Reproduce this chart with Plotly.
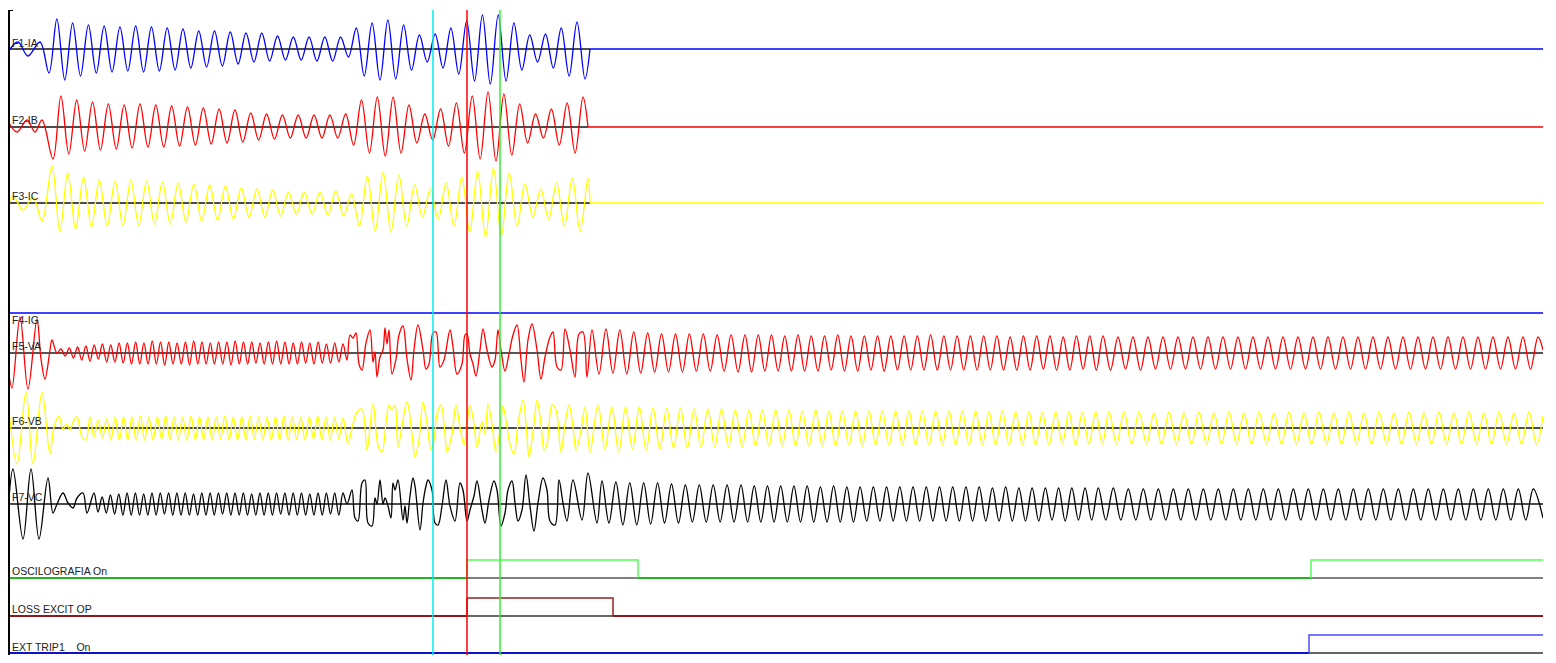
import numpy as np
import plotly.graph_objects as go

# ---------------------------------------------------------------
# DATA  (time axis in ms of the record window, values in trace units)
# ---------------------------------------------------------------
T_START, T_END = 8, 1543
CURSORS = [433, 467, 500]          # cyan, red, green cursor times

# ---- F1-IA ----
IA_T0 = [8, 18, 28, 40]
IA_V0 = [-3, 7, -7, 7]
IA_SPAN1 = [49, 577]
IA_V1 = [-24, 30, -31, 26, -27, 24, -24, 23, -23, 22, -22, 23, -23, 22, -22, 21,
         -21, 20, -19, 18, -18, 18, -17, 17, -15, 16, -13, 16, -12, 13, -11, 12,
         -11, 12, -12, 12, -12, 12, -8, 21, -27, 26, -31, 29, -30, 24, -21, 14,
         -13, 15, -19, 21, -25, 28, -32, 34, -35, 34, -32, 26, -21, 14, -13, 15,
         -19, 21, -27, 27]
IA_T2 = [585, 590]
IA_V2 = [-30, 0]

# ---- F2-IB ----
IB_T0 = [8, 17, 27, 35, 42]
IB_V0 = [6, -5, 7, -5, 7]
IB_SPAN1 = [53, 583]
IB_V1 = [-32, 31, -27, 27, -24, 25, -23, 23, -22, 22, -21, 23, -20, 22, -20, 21,
         -19, 20, -18, 19, -17, 18, -16, 17, -15, 14, -13, 13, -12, 12, -11, 12,
         -11, 12, -11, 12, -11, 13, -18, 27, -26, 30, -29, 30, -26, 22, -16, 13,
         -13, 18, -19, 24, -26, 31, -32, 35, -34, 33, -28, 23, -16, 13, -11, 18,
         -18, 24, -26, 30]
IB_T2 = [588]
IB_V2 = [0]

# ---- F3-IC ----
IC_T0 = [8, 13, 23, 33, 42]
IC_V0 = [-3, 7, -7, 6, -18]
IC_SPAN1 = [52, 588]
IC_V1 = [37, -29, 30, -26, 26, -24, 23, -23, 22, -22, 23, -22, 22, -21, 21, -21,
         20, -19, 19, -18, 18, -17, 17, -16, 15, -14, 14, -14, 13, -13, 11, -11,
         11, -11, 11, -12, 12, -13, 9, -23, 27, -28, 31, -29, 28, -23, 18, -14,
         14, -16, 20, -23, 26, -29, 32, -34, 35, -33, 30, -23, 19, -14, 14, -16,
         20, -23, 25, -28, 25]
IC_T2 = [590]
IC_V2 = [0]

# ---- F5-VA ----
VA_T0 = [8, 12, 20, 28, 37, 41, 45, 50, 52, 57]
VA_V0 = [-14, -35, 36, -36, 34, -6, -26, 3, 13, 0]
VA_SPAN_D = [61, 343]
VA_D = [4, -3, 5, -5, 6, -7, 7, -8, 8, -6, 9, -9, 8, -9, 10, -10, 10, -11, 11, -11,
        10, -11, 12, -11, 11, -12, 11, -11, 10, -11, 11, -12, 12, -11, 11, -11, 10, -11, 11, -11,
        11, -12, 12, -11, 11, -11, 11, -10, 10, -11, 11, -11, 12, -11, 11, -11, 10, -11, 11, -10,
        10, -11, 11, -10, 9, -10, 10, -9, 9]
VA_TM = [347, 350, 353, 356, 359, 362, 366, 370, 373, 375, 377, 380, 383, 385, 387, 389, 392, 396,
         399, 403, 407, 411, 414, 418, 423, 426, 429, 433, 436, 440, 444, 450, 453, 457, 462, 465,
         467, 470, 473, 476, 480, 483, 487, 492, 495, 498, 501, 505, 509, 513, 517, 521, 524, 528,
         532, 537, 541, 545, 550, 553, 557, 561, 565, 570, 575, 579, 583, 587, 592]
VA_VM = [-7, 18, 15, 20, -11, -17, 10, 23, -9, 1, -24, -4, 3, 25, 9, 23, -21, -6,
         18, 27, -6, -27, 3, 28, 3, -16, -11, 20, 21, -14, -7, 23, 6, -21, -11, 18,
         19, -1, -11, -23, 3, 24, 3, -14, -7, 23, 3, -18, -1, 18, 28, -7, -29, 13,
         29, 3, -26, -4, 16, 21, -14, -17, 24, 3, -24, 19, 21, -24, 23]
VA_SPAN_A1 = [599, 745]
VA_A1 = [-21, 24, -20, 23, -21, 21, -20, 20, -19, 19, -19, 19, -19, 19, -18, 19, -18, 18,
         -18, 18, -19, 18]
VA_SPAN_A2 = [751.6, 1103]
VA_A2 = [-19, 18, -18, 18, -18, 17, -18, 18, -18, 17, -18, 17, -17, 18, -18, 17, -18, 17,
         -17, 17, -18, 17, -17, 17, -17, 17, -17, 18, -17, 17, -17, 17, -17, 17, -17, 17,
         -17, 17, -17, 16, -17, 17, -17, 17, -16, 17, -17, 16, -17, 17, -16, 17, -17, 17]
VA_SPAN_B = [1110.5, 1538]
VA_B = [-17, 16, -16, 16, -17, 16, -16, 16, -16, 16, -16, 16, -16, 16, -16, 16, -16, 16,
        -16, 16, -16, 16, -16, 16, -16, 16, -16, 16, -16, 16, -16, 16, -16, 16, -16, 16,
        -16, 16, -16, 16, -16, 16, -16, 16, -16, 16, -16, 16, -16, 16, -16, 16, -16, 16,
        -16, 16, -16, 16]
VA_TE = [1543]
VA_VE = [3]

# ---- F6-VB ----
VB_T0 = [8, 17, 26, 33, 42, 50, 54, 59, 63, 67, 70, 73, 77, 82, 86, 90]
VB_V0 = [28, -36, 36, -36, 36, -26, 1, 12, -1, 4, -2, 6, 11, -9, -12, 11]
VB_SPAN_D = [94, 343]
VB_D = [-9, 8, -10, 9, -12, 11, -12, 11, -12, 11, -12, 12, -12, 11, -12, 11, -11, 12, -12, 11,
        -12, 11, -12, 12, -12, 11, -12, 11, -12, 11, -11, 12, -12, 11, -12, 11, -12, 12, -11, 11,
        -12, 11, -12, 11, -12, 12, -12, 11, -11, 11, -12, 11, -11, 12, -12, 11, -12, 11, -11, 10]
VB_TM = [348, 352, 357, 362, 367, 373, 378, 382, 386, 389, 392, 395, 398, 402, 407, 412, 415, 419,
         423, 427, 431, 434, 437, 441, 445, 447, 452, 456, 460, 464, 467, 470, 474, 477, 482, 485,
         488, 492, 496, 500, 503, 507, 510, 514, 518, 523, 527, 529, 534, 537, 541, 544, 547, 552,
         556, 561, 565, 569, 573, 576, 581, 585, 590, 598]
VB_VM = [-16, 0, 16, 19, -22, 24, -17, -24, 5, 23, 18, 23, -19, 2, 26, -6, -29, -12,
         26, 4, -22, -12, 14, 23, -6, -24, -6, 23, 1, -17, 4, 23, 4, -19, 6, -6,
         24, 4, -24, -2, 22, 1, -16, -26, 4, 28, -9, -29, 4, 28, 4, -22, -16, 23,
         18, -24, 4, 23, 1, -22, -2, 21, -24, 23]
VB_SPAN_A1 = [605, 749]
VB_A1 = [-21, 21, -24, 21, -21, 21, -22, 20, -21, 20, -20, 20, -20, 19, -19, 19, -19, 19,
         -19, 18, -19, 18]
VB_SPAN_A2 = [755.6, 1109]
VB_A2 = [-18, 18, -18, 18, -18, 18, -18, 17, -18, 18, -18, 17, -18, 17, -17, 17, -18, 17,
         -17, 17, -17, 17, -17, 17, -17, 17, -17, 17, -17, 17, -17, 17, -17, 17, -17, 16,
         -17, 17, -17, 16, -17, 16, -17, 16, -17, 16, -16, 16, -17, 16, -16, 16, -16, 16]
VB_SPAN_B = [1116.5, 1529]
VB_B = [-16, 16, -16, 16, -16, 15, -16, 16, -16, 15, -16, 16, -16, 15, -16, 16, -16, 15,
        -16, 16, -16, 15, -16, 16, -16, 15, -16, 16, -16, 15, -16, 16, -16, 15, -16, 16,
        -16, 15, -16, 16, -16, 15, -16, 16, -16, 15, -16, 16, -16, 15, -16, 16, -16, 15,
        -16, 16]
VB_TE = [1536.5, 1543]
VB_VE = [-16, 12]

# ---- F7-VC ----
VC_T0 = [8, 13, 23, 31, 39, 48, 53, 57, 63, 68, 73, 77, 83, 87, 94]
VC_V0 = [-9, 35, -35, 35, -35, 26, -9, 0, 11, 1, -4, 6, 11, -9, 11]
VC_SPAN_D = [98, 343]
VC_D = [-8, 7, -9, 9, -10, 10, -11, 11, -11, 11, -11, 10, -11, 11, -11, 11, -10, 11, -11, 11,
        -11, 11, -11, 10, -11, 11, -11, 11, -11, 11, -10, 11, -11, 11, -11, 11, -11, 10, -11, 11,
        -11, 11, -11, 11, -10, 11, -11, 11, -11, 11, -11, 10, -11, 11, -11, 11, -10, 11, -11, 11]
VC_TM = [347, 352, 355, 358, 362, 365, 368, 372, 375, 377, 380, 383, 385, 388, 391, 393, 395, 398,
         403, 405, 407, 410, 413, 415, 420, 423, 426, 428, 432, 435, 438, 442, 446, 450, 455, 460,
         463, 467, 470, 474, 477, 482, 485, 489, 494, 497, 501, 505, 508, 512, 515, 518, 522, 526,
         530, 534, 538, 543, 547, 550, 555, 559, 563, 567, 573, 582, 588, 597]
VC_VM = [0, 14, -14, -17, 21, 24, -19, -22, 6, 0, 24, 0, 6, -2, -14, 21, 14, 24,
         -16, -2, -19, 8, 26, 18, -26, 1, 18, 24, 14, -19, -21, -2, 24, -2, -17, 21,
         14, -17, -6, 8, 23, -6, -19, 4, 23, 14, -22, -9, 14, 23, 1, -17, -6, 29,
         -2, -27, 1, 26, 14, -17, -21, 24, 1, -17, 24, -16, 31, -19]
VC_SPAN_A1 = [602, 741]
VC_A1 = [23, -19, 22, -21, 21, -21, 21, -20, 21, -19, 20, -19, 19, -18, 19, -18, 19, -18,
         19, -18, 19]
VC_SPAN_A2 = [747.6, 1098.3]
VC_A2 = [-18, 18, -18, 18, -18, 18, -18, 18, -18, 18, -18, 17, -18, 18, -18, 17, -18, 17,
         -17, 17, -17, 17, -17, 17, -17, 17, -17, 17, -17, 17, -17, 17, -17, 17, -17, 17,
         -17, 16, -17, 17, -17, 16, -17, 16, -17, 16, -16, 16, -17, 16, -16, 16, -16, 16]
VC_SPAN_B = [1105.8, 1533.3]
VC_B = [-16, 16, -16, 15, -16, 15, -16, 15, -16, 15, -16, 15, -16, 15, -16, 15, -16, 15,
        -16, 15, -16, 15, -16, 15, -16, 15, -16, 15, -16, 15, -16, 15, -16, 15, -16, 15,
        -16, 15, -16, 15, -16, 15, -16, 15, -16, 15, -16, 15, -16, 15, -16, 15, -16, 15,
        -16, 15, -16, 15]
VC_TE = [1543]
VC_VE = [-14]

# ---- digital channels: transition times and states ----
OSC_T = [8, 467, 638, 1311]
OSC_S = [0, 1, 0, 1]
LOSS_T = [8, 467, 613]
LOSS_S = [0, 1, 0]
EXT_T = [8, 1309]
EXT_S = [0, 1]

CHANNEL_LABELS = ["F1-IA", "F2-IB", "F3-IC", "F4-IG", "F5-VA", "F6-VB", "F7-VC",
                  "OSCILOGRAFIA On", "LOSS EXCIT OP", "EXT TRIP1\u00a0\u00a0\u00a0 On"]

# ---------------------------------------------------------------
# LAYOUT / STYLE (trace offsets on the shared vertical scale)
# ---------------------------------------------------------------
BASE = {"IA": 49, "IB": 127, "IC": 203, "IG": 313, "VA": 353, "VB": 428, "VC": 504,
        "OSC": 578, "LOSS": 616, "EXT": 653}
DIG_HIGH = 18
LABEL_Y = [43, 120, 196, 320, 346, 421, 497, 571, 609, 647]


def build(pieces):
    xs, ys = [], []
    for kind, t, v in pieces:
        if kind == "pts":
            xs += list(t)
        else:
            xs += list(np.linspace(t[0], t[1], len(v)))
        ys += list(v)
    return np.array(xs, dtype=float), np.array(ys, dtype=float)


fig = go.Figure()


def hline(y, color, width, x0=T_START, x1=T_END):
    fig.add_trace(go.Scatter(x=[x0, x1], y=[y, y], mode="lines",
                             line=dict(color=color, width=width), hoverinfo="skip"))


def wave(pieces, base, color, width=1.3):
    x, v = build(pieces)
    fig.add_trace(go.Scatter(x=x, y=base - v, mode="lines",
                             line=dict(color=color, width=width, shape="spline", smoothing=1.0),
                             hoverinfo="skip"))


# analog baselines (currents: only under the recorded part, then the flat trace itself)
hline(BASE["IA"], "#111111", 1.5, T_START, IA_T2[-1])
hline(BASE["IB"], "#111111", 1.5, T_START, IB_T2[-1])
hline(BASE["IC"], "#111111", 1.5, T_START, IC_T2[-1])
hline(BASE["VB"], "#111111", 1.5)
hline(BASE["VC"], "#111111", 1.5)
hline(BASE["VA"], "#555555", 2)

# currents
wave([("pts", IA_T0, IA_V0), ("span", IA_SPAN1, IA_V1), ("pts", IA_T2, IA_V2)], BASE["IA"], "#0000ff")
hline(BASE["IA"], "#0000ff", 1.5, IA_T2[-1], T_END)
wave([("pts", IB_T0, IB_V0), ("span", IB_SPAN1, IB_V1), ("pts", IB_T2, IB_V2)], BASE["IB"], "#ff0000")
hline(BASE["IB"], "#ff0000", 1.5, IB_T2[-1], T_END)
wave([("pts", IC_T0, IC_V0), ("span", IC_SPAN1, IC_V1), ("pts", IC_T2, IC_V2)], BASE["IC"], "#ffff00")
hline(BASE["IC"], "#ffff00", 1.5, IC_T2[-1], T_END)
hline(BASE["IG"], "#0000ff", 1.5)

# voltages
wave([("pts", VA_T0, VA_V0), ("span", VA_SPAN_D, VA_D), ("pts", VA_TM, VA_VM),
      ("span", VA_SPAN_A1, VA_A1), ("span", VA_SPAN_A2, VA_A2), ("span", VA_SPAN_B, VA_B),
      ("pts", VA_TE, VA_VE)], BASE["VA"], "#ff0000")
wave([("pts", VB_T0, VB_V0), ("span", VB_SPAN_D, VB_D), ("pts", VB_TM, VB_VM),
      ("span", VB_SPAN_A1, VB_A1), ("span", VB_SPAN_A2, VB_A2), ("span", VB_SPAN_B, VB_B),
      ("pts", VB_TE, VB_VE)], BASE["VB"], "#ffff00")
wave([("pts", VC_T0, VC_V0), ("span", VC_SPAN_D, VC_D), ("pts", VC_TM, VC_VM),
      ("span", VC_SPAN_A1, VC_A1), ("span", VC_SPAN_A2, VC_A2), ("span", VC_SPAN_B, VC_B),
      ("pts", VC_TE, VC_VE)], BASE["VC"], "#000000")


# digital channels
def digital(times, states, base, low_col, high_col, base_col):
    hline(base, base_col, 1.5)
    bounds = list(times) + [T_END]
    for i, s in enumerate(states):
        a, b = bounds[i], bounds[i + 1]
        if s == 0:
            fig.add_trace(go.Scatter(x=[a, b], y=[base, base], mode="lines",
                                     line=dict(color=low_col, width=2), hoverinfo="skip"))
        else:
            xs = [a, a, b] + ([b] if b < T_END else [])
            ys = [base, base - DIG_HIGH, base - DIG_HIGH] + ([base] if b < T_END else [])
            fig.add_trace(go.Scatter(x=xs, y=ys, mode="lines",
                                     line=dict(color=high_col, width=1.5), hoverinfo="skip"))


digital(OSC_T, OSC_S, BASE["OSC"], "#22b422", "#55ff55", "#555555")
digital(LOSS_T, LOSS_S, BASE["LOSS"], "#8b1a1a", "#9b2222", "#333333")
digital(EXT_T, EXT_S, BASE["EXT"], "#1010c8", "#4a4aff", "#333333")

# cursors
for t, c in zip(CURSORS, ["#00eeee", "#ff0000", "#33ee33"]):
    fig.add_shape(type="line", x0=t, x1=t, y0=9, y1=655, xref="x", yref="y",
                  line=dict(color=c, width=1.5))

# left frame
fig.add_shape(type="line", x0=T_START, x1=T_START, y0=10, y1=655, xref="x", yref="y",
              line=dict(color="#000000", width=4))
fig.add_shape(type="line", x0=T_START, x1=T_START + 5, y0=10, y1=10, xref="x", yref="y",
              line=dict(color="#000000", width=2))

# labels
for txt, y in zip(CHANNEL_LABELS, LABEL_Y):
    fig.add_annotation(x=T_START + 2, y=y, text=txt, showarrow=False, xanchor="left",
                       yanchor="middle", font=dict(family="Arial, Liberation Sans", size=10.5,
                                                   color="#222222"))

# the page body has an 8px default margin, so the figure is sized to end at the window edge
fig.update_layout(
    width=1548, height=655, showlegend=False,
    margin=dict(l=0, r=13, t=2, b=8),
    paper_bgcolor="white", plot_bgcolor="white",
    xaxis=dict(range=[T_START, T_END], visible=False, fixedrange=True),
    yaxis=dict(range=[655, 10], visible=False, fixedrange=True),
)

fig.write_html("out.html")
